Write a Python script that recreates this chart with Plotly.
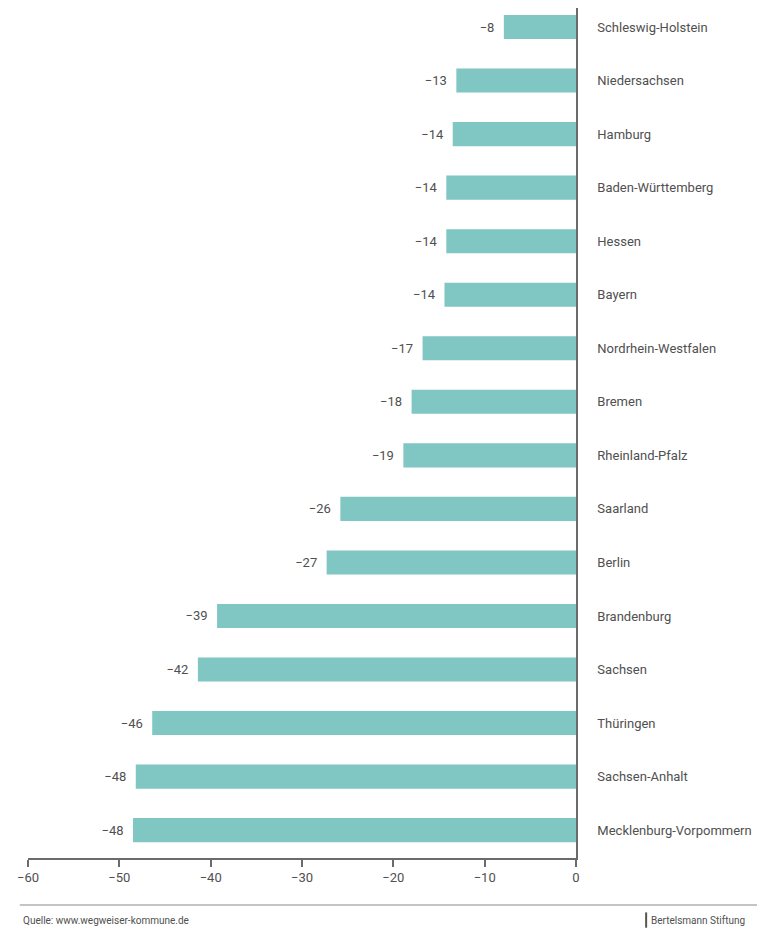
import plotly.graph_objects as go

states = [
    "Schleswig-Holstein", "Niedersachsen", "Hamburg", "Baden-Württemberg",
    "Hessen", "Bayern", "Nordrhein-Westfalen", "Bremen", "Rheinland-Pfalz",
    "Saarland", "Berlin", "Brandenburg", "Sachsen", "Thüringen",
    "Sachsen-Anhalt", "Mecklenburg-Vorpommern",
]
values = [-7.9, -13.1, -13.5, -14.2, -14.2, -14.4, -16.8, -18.0, -18.9,
          -25.8, -27.3, -39.3, -41.4, -46.4, -48.2, -48.5]
value_labels = ["−8", "−13", "−14", "−14", "−14", "−14", "−17", "−18", "−19",
                "−26", "−27", "−39", "−42", "−46", "−48", "−48"]
x_ticks = [-60, -50, -40, -30, -20, -10, 0]
source_text = "Quelle: www.wegweiser-kommune.de"
brand_text = "Bertelsmann Stiftung"

FONT = "Roboto, Liberation Sans Narrow, sans-serif"
GREY = "#505050"
LINE = "#6b6b6b"

fig = go.Figure()
fig.add_trace(go.Bar(
    x=values,
    y=states,
    orientation="h",
    width=0.45,
    marker=dict(color="#80c6c2", line=dict(width=0)),
    text=[t + "  " for t in value_labels],
    textposition="outside",
    textfont=dict(family=FONT, size=13, color=GREY),
    cliponaxis=False,
    hoverinfo="skip",
))

fig.update_layout(
    width=757,
    height=924,
    margin=dict(l=20, r=189, t=0, b=74),
    paper_bgcolor="white",
    plot_bgcolor="white",
    showlegend=False,
    font=dict(family=FONT, size=13, color=GREY),
    xaxis=dict(
        range=[-60, 0],
        tickvals=x_ticks,
        showgrid=False,
        zeroline=False,
        showline=True,
        linecolor=LINE,
        linewidth=1.5,
        ticks="outside",
        ticklen=7,
        tickwidth=1.5,
        tickcolor=LINE,
        tickfont=dict(family=FONT, size=13, color=GREY),
    ),
    yaxis=dict(
        categoryorder="array",
        categoryarray=states,
        range=[15.52, -0.355],
        side="right",
        showgrid=False,
        zeroline=False,
        showline=True,
        linecolor=LINE,
        linewidth=1.5,
        ticks="",
        ticklabelstandoff=17,
        tickfont=dict(family=FONT, size=13, color=GREY),
    ),
)

# footer separator
fig.add_shape(type="line", xref="paper", yref="paper",
              x0=-0.015, x1=1.345, y0=-0.0553, y1=-0.0553,
              line=dict(color="#8a8a8a", width=1.2))
fig.add_annotation(text=source_text, xref="paper", yref="paper",
                   x=-0.012, y=-0.073, xanchor="left", yanchor="middle",
                   showarrow=False, font=dict(family=FONT, size=10, color=GREY))
fig.add_shape(type="line", xref="paper", yref="paper",
              x0=1.128, x1=1.128, y0=-0.064, y1=-0.082,
              line=dict(color="#555555", width=2))
fig.add_annotation(text=brand_text, xref="paper", yref="paper",
                   x=1.134, y=-0.073, xanchor="left", yanchor="middle",
                   showarrow=False, font=dict(family=FONT, size=10, color=GREY))

fig.write_html("out.html")
